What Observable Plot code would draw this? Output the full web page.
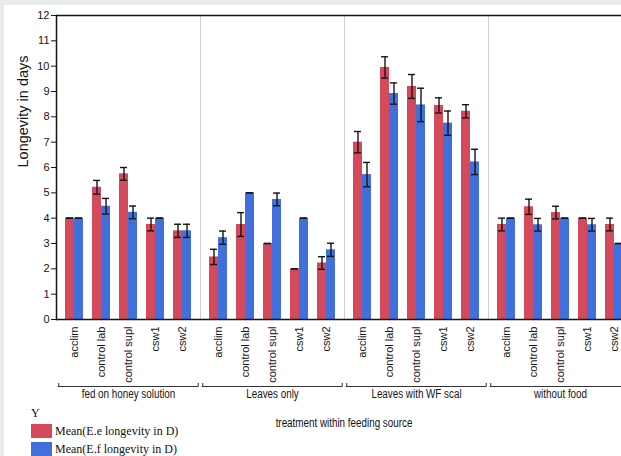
<!DOCTYPE html>
<html>
<head>
<meta charset="utf-8">
<script src="https://cdn.jsdelivr.net/npm/d3@7"></script>
<script src="https://cdn.jsdelivr.net/npm/@observablehq/plot@0.6"></script>
<style>
  html, body { margin: 0; padding: 0; background: #e7ebeb; overflow: hidden; }
  #panel {
    position: absolute; left: 4px; top: 5px; width: 617px; height: 451px;
    background: #fff; overflow: hidden;
    font-family: "Liberation Sans", Arial, sans-serif;
  }
  #panel svg { display: block; max-width: none !important; }
  #legend { position: relative; height: 51px; }
  #legend .title {
    position: absolute; left: 27px; top: 1px;
    font: 12px/14px "Liberation Serif", "Times New Roman", serif; color: #111;
  }
  #legend .row {
    position: absolute; left: 27px; height: 14px;
    font: 12px/14px "Liberation Serif", "Times New Roman", serif; color: #111;
    white-space: nowrap;
  }
  #legend .sw { position: absolute; left: 0; top: 0; width: 21px; height: 14px; }
  #legend .row span.lab { position: absolute; left: 24px; top: 0; }
  #xtitle {
    position: absolute; left: 340px; top: 11px;
    transform: translateX(-50%) scaleX(0.82);
    font: 12px/14px "Liberation Sans", Arial, sans-serif;
    color: #111; white-space: nowrap;
  }
</style>
</head>
<body>
<div id="panel"></div>
<script>
// Feeding sources (outer groups) and treatments within each source
const groups = ["fed on honey solution", "Leaves only", "Leaves with WF scal", "without food"];
const treatments = ["acclim", "control lab", "control supl", "csw1", "csw2"];
const series = ["Mean(E.e longevity in D)", "Mean(E.f longevity in D)"];
const colors = ["#d44a5a", "#4170dd"];
const yTicks = [0, 1, 2, 3, 4, 5, 6, 7, 8, 9, 10, 11, 12];
const yTitle = "Longevity in days";
const xTitle = "treatment within feeding source";
const legendTitle = "Y";

// Mean longevity (days) and error, listed group by group in treatment order
const eeMean = [4.0, 5.22, 5.75, 3.75, 3.5,   2.47, 3.75, 3.0, 2.0, 2.23,   7.0, 9.95, 9.2, 8.45, 8.22,   3.75, 4.45, 4.22, 4.0, 3.75];
const eeErr  = [0,   0.27, 0.25, 0.25, 0.26,  0.3,  0.47, 0,   0,   0.25,   0.42, 0.42, 0.47, 0.3, 0.26,  0.25, 0.3,  0.25, 0,   0.25];
const efMean = [4.0, 4.47, 4.23, 4.0, 3.5,    3.23, 5.0, 4.74, 4.0, 2.75,   5.72, 8.92, 8.47, 7.75, 6.22, 4.0, 3.74, 4.0, 3.74, 3.0];
const efErr  = [0,   0.31, 0.25, 0,   0.26,   0.26, 0,   0.25, 0,   0.26,   0.48, 0.42, 0.66, 0.48, 0.5,  0,   0.25, 0,   0.25, 0];

// Long-format table for the marks
const rows = [];
groups.forEach((g, gi) => treatments.forEach((t, ti) => {
  const k = gi * treatments.length + ti;
  rows.push({group: g, treatment: t, series: series[0], mean: eeMean[k], err: eeErr[k]});
  rows.push({group: g, treatment: t, series: series[1], mean: efMean[k], err: efErr[k]});
}));
const eRows = rows.filter(d => d.series === series[0]);
const fRows = rows.filter(d => d.series === series[1]);

const half = 9;          // each bar takes half of the 18px band
const ink = "#151515";
const sans = '"Liberation Sans", Arial, sans-serif';

function errorBars(data, shift) {
  const common = {fx: "group", x: "treatment", dx: shift, stroke: ink, strokeWidth: 1.4};
  return [
    Plot.ruleX(data, {...common, y1: d => d.mean - d.err, y2: d => d.mean + d.err}),
    Plot.tickY(data, {...common, y: d => d.mean - d.err, insetLeft: 5.5, insetRight: 5.5}),
    Plot.tickY(data, {...common, y: d => d.mean + d.err, insetLeft: 5.5, insetRight: 5.5})
  ];
}

const chart = Plot.plot({
  width: 629,
  height: 400,
  marginLeft: 51,
  marginRight: 0,
  marginTop: 10,
  marginBottom: 86,
  style: {fontFamily: sans, fontSize: "11px", color: ink, background: "transparent", overflow: "visible"},
  fx: {domain: groups, padding: 0, axis: null},
  x: {domain: treatments, paddingInner: 0.3455, paddingOuter: 0.3, axis: null},
  y: {domain: [0, 12], axis: null},
  color: {domain: series, range: colors},
  marks: [
    // light separators between feeding sources
    Plot.frame({stroke: "#d2d2d2"}),
    Plot.barY(eRows, {fx: "group", x: "treatment", y: "mean", fill: "series", insetRight: half}),
    Plot.barY(fRows, {fx: "group", x: "treatment", y: "mean", fill: "series", insetLeft: half}),
    ...errorBars(eRows, -half / 2),
    ...errorBars(fRows, half / 2),
    Plot.ruleY([0, 12], {stroke: ink, strokeWidth: 1.5}),
    Plot.frame({anchor: "left", facetAnchor: "left", stroke: ink, strokeWidth: 1.5}),
    Plot.axisY({ticks: yTicks, tickFormat: d3.format("d"), tickSize: 5, tickPadding: 2, label: null, fontSize: 11}),
    Plot.text([yTitle], {fx: () => groups[0], text: d => d, frameAnchor: "left", rotate: -90, dx: -33, fontSize: 14.5, fill: ink}),
    Plot.axisX({tickRotate: -90, tickSize: 0, tickPadding: 7, label: null, fontSize: 11}),
    // brackets under each feeding source
    Plot.ruleY([0], {dy: 67, insetLeft: 1.5, insetRight: 1.5, stroke: "#333"}),
    Plot.ruleX([treatments[0]], {dx: -15.75, dy: 67, insetTop: 301, stroke: "#333"}),
    Plot.ruleX([treatments[treatments.length - 1]], {dx: 15.75, dy: 67, insetTop: 301, stroke: "#333"}),
    Plot.text(groups, {fx: d => d, text: d => d, frameAnchor: "bottom", dy: 78, fontSize: 12, fill: ink,
                       className: "group-label"})
  ]
});

const panel = document.getElementById("panel");
panel.appendChild(chart);

// group names are set in a condensed style
d3.select(chart).selectAll(".group-label text").each(function() {
  const w = this.getComputedTextLength();
  this.setAttribute("textLength", (w * 0.82).toFixed(1));
  this.setAttribute("lengthAdjust", "spacingAndGlyphs");
});

// legend and axis title below the chart
const legend = d3.select(panel).append("div").attr("id", "legend");
legend.append("div").attr("class", "title").text(legendTitle);
series.forEach((s, i) => {
  const row = legend.append("div").attr("class", "row").style("top", (19 + i * 17.5) + "px");
  row.append("span").attr("class", "sw").style("background", colors[i]);
  row.append("span").attr("class", "lab").text(s);
});
legend.append("div").attr("id", "xtitle").text(xTitle);
</script>
</body>
</html>
